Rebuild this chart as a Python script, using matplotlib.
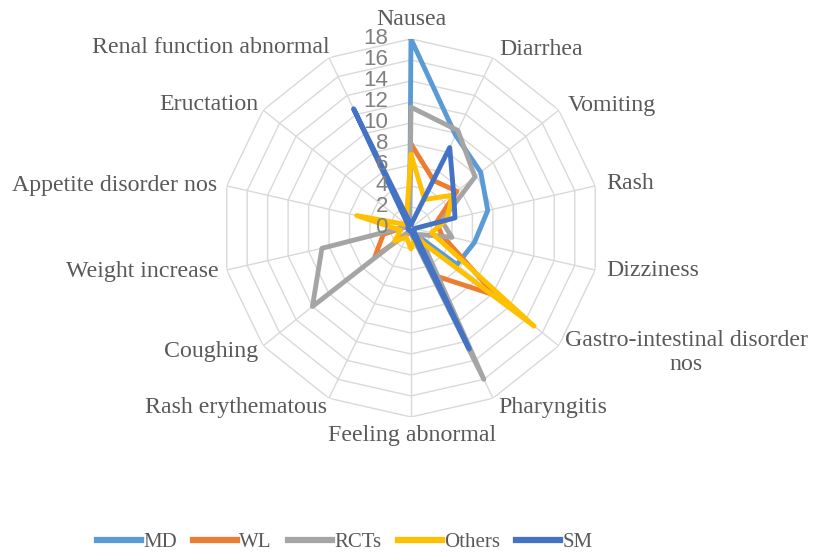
import numpy as np
import matplotlib
matplotlib.use("Agg")
import matplotlib.pyplot as plt
from matplotlib.lines import Line2D

categories = ["Nausea", "Diarrhea", "Vomiting", "Rash", "Dizziness",
              "Gastro-intestinal disorder\nnos", "Pharyngitis", "Feeling abnormal",
              "Rash erythematous", "Coughing", "Weight increase",
              "Appetite disorder nos", "Eructation", "Renal function abnormal"]

md = [18, 9.8, 8.5, 7.5, 6.2, 5.6, 0.5, 0.3, 0.3, 0.3, 0.3, 0.3, 0.3, 0.3]
wl = [8, 5, 5.6, 2.5, 3, 10.3, 5, 0.5, 0.5, 4.4, 2.7, 0.5, 0.5, 0.5]
rcts = [11.5, 10.3, 7.8, 3, 4, 1, 16, 0.5, 0.3, 12, 8.7, 0.5, 0.3, 0.3]
others = [7, 3, 5, 3.5, 2, 15, 1, 2, 1, 2, 1, 5.3, 0.5, 1]
sm = [0.3, 8.5, 5.2, 4.3, 0.3, 0.3, 12.8, 0.3, 0.3, 0.3, 0.3, 0.3, 0.3, 12.6]

series_names = ["MD", "WL", "RCTs", "Others", "SM"]
series_colors = ["#5B9BD5", "#ED7D31", "#A5A5A5", "#FFC000", "#4472C4"]
rticks = [0, 2, 4, 6, 8, 10, 12, 14, 16, 18]

# pixel offsets of category labels from the outer ring vertex
label_offsets = [(0, 9, "center", "bottom"), (6, 8, "left", "center"),
                 (9, 5, "left", "center"), (11, 2, "left", "center"),
                 (11, 0, "left", "center"), (6, -7, "left", "center"),
                 (5, -9, "left", "center"), (1, -8, "center", "top"),
                 (-2, -9, "right", "center"), (-5, -6, "right", "center"),
                 (-8, -1, "right", "center"), (-10, 0, "right", "center"),
                 (-5, 6, "right", "center"), (1, 10, "right", "center")]

n = len(categories)
theta = np.arange(n) * 2 * np.pi / n
theta_c = np.append(theta, theta[0])

fig = plt.figure(figsize=(8.13, 5.56), dpi=100)
ax = fig.add_axes([0.273, 0.250, 0.465, 0.680], projection="polar")
ax.set_theta_zero_location("N")
ax.set_theta_direction(-1)
ax.set_ylim(0, 18)
ax.grid(False)
ax.spines["polar"].set_visible(False)
ax.set_xticks([])
ax.set_yticks([])
ax.patch.set_alpha(0)

grid_col = "#D9D9D9"
for r in rticks[1:]:
    ax.plot(theta_c, [r] * (n + 1), color=grid_col, lw=1.0, zorder=1)
for t in theta:
    ax.plot([t, t], [0, 18], color=grid_col, lw=1.0, zorder=1)

for name, vals, col in zip(series_names, [md, wl, rcts, others, sm], series_colors):
    v = np.append(vals, vals[0])
    ax.plot(theta_c, v, color=col, lw=3.5, solid_joinstyle="round",
            solid_capstyle="round", zorder=3)

for r in rticks:
    ax.annotate(str(r), xy=(0, r), xytext=(-23, 0), textcoords="offset pixels",
                ha="right", va="center", fontsize=16, color="#808080",
                family="Liberation Sans", zorder=5, annotation_clip=False)

for t, lab, (dx, dy, ha, va) in zip(theta, categories, label_offsets):
    ax.annotate(lab, xy=(t, 18), xytext=(dx, dy), textcoords="offset pixels",
                ha=ha, va=va, multialignment="center", fontsize=17.2,
                color="#595959", family="Liberation Serif",
                annotation_clip=False)

handles = [Line2D([0], [0], color=c, lw=4.5) for c in series_colors]
leg = fig.legend(handles, series_names, loc="center", ncol=5,
                 bbox_to_anchor=(0.424, 0.025), frameon=False,
                 prop={"family": "Liberation Serif", "size": 15},
                 handlelength=2.1, handletextpad=0.1, columnspacing=0.8,
                 borderpad=0.0)
for txt in leg.get_texts():
    txt.set_color("#595959")

fig.savefig("out.png", dpi=100)
